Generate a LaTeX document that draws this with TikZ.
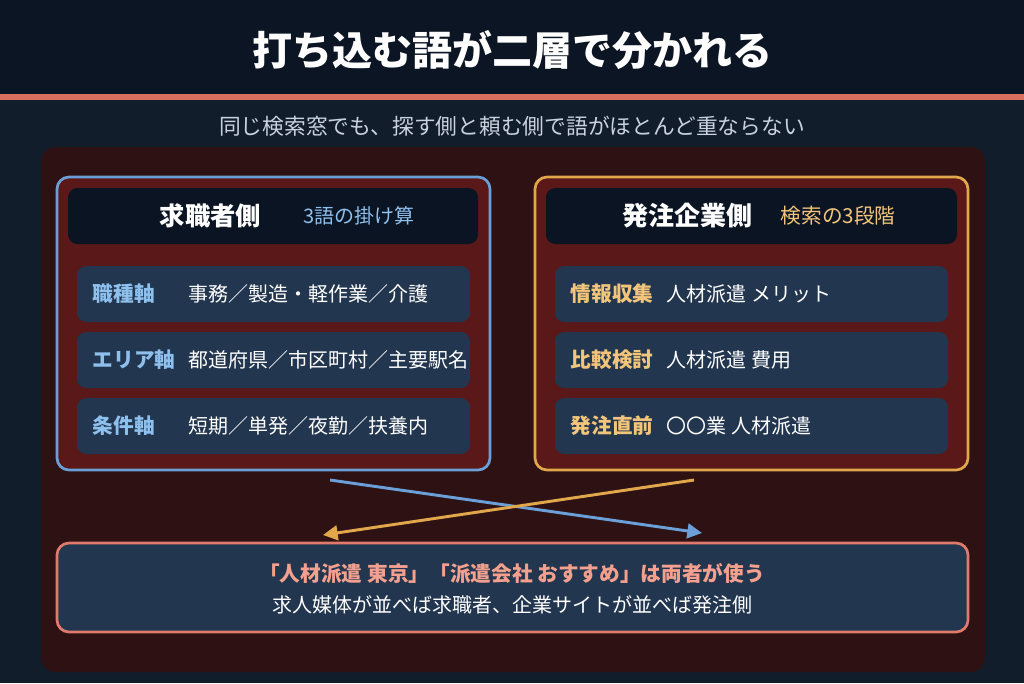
\documentclass[tikz,border=0pt]{standalone}
\usepackage{fontspec}
\setmainfont{Noto Sans CJK JP}
\usetikzlibrary{arrows.meta}

\definecolor{bgtop}{HTML}{0B1523}
\definecolor{bgbot}{HTML}{111D2B}
\definecolor{rule}{HTML}{D9705F}
\definecolor{panel}{HTML}{2E1113}
\definecolor{boxred}{HTML}{5A1818}
\definecolor{rowbg}{HTML}{22364F}
\definecolor{headbg}{HTML}{0A1422}
\definecolor{seekblue}{HTML}{6A9FD8}
\definecolor{seektxt}{HTML}{8EC0EE}
\definecolor{firmgold}{HTML}{E0A84A}
\definecolor{firmtxt}{HTML}{F2C57A}
\definecolor{salmon}{HTML}{E07A6A}
\definecolor{salmontxt}{HTML}{F4A08E}
\definecolor{subgray}{HTML}{C9D2DE}

\tikzset{
  sidebox/.style={draw=#1,line width=2pt,fill=boxred,rounded corners=9pt},
  headbox/.style={fill=headbg,rounded corners=7pt},
  rowbox/.style={fill=rowbg,rounded corners=7pt},
  lbl/.style={anchor=west,font=\bfseries\fontsize{15.5}{18}\selectfont,text=#1},
  val/.style={anchor=west,font=\fontsize{15}{18}\selectfont,text=white},
  cross/.style={draw=#1,line width=2.2pt,-{Triangle[length=11pt,width=11pt]}}
}

\begin{document}
\begin{tikzpicture}[x=0.75pt,y=-0.75pt]
  \useasboundingbox (0,0) rectangle (1024,683);

  % background
  \fill[bgbot] (0,0) rectangle (1024,683);
  \fill[bgtop] (0,0) rectangle (1024,94);
  \fill[rule] (0,94) rectangle (1024,100);
  \node[font=\bfseries\fontsize{30}{34}\selectfont,text=white] (title) at (512,50){打ち込む語が二層で分かれる};
  \node[font=\fontsize{16.3}{20}\selectfont,text=subgray] (sub) at (512,126){同じ検索窓でも、探す側と頼む側で語がほとんど重ならない};

  \fill[panel,rounded corners=11pt] (41,147) rectangle (985,672);

  % seeker side
  \draw[sidebox=seekblue] (57,177) rectangle (490,470);
  \fill[headbox] (68,188) rectangle (478,244);
  \node[anchor=west,font=\bfseries\fontsize{19}{22}\selectfont,text=white] (sh) at (155,216){求職者側};
  \node[anchor=west,font=\fontsize{15}{18}\selectfont,text=seektxt] (shs) at (299,216){3語の掛け算};

  \fill[rowbox] (77,266) rectangle (470,322);
  \fill[rowbox] (77,332) rectangle (470,388);
  \fill[rowbox] (77,398) rectangle (470,454);

  \node[lbl=seektxt] (s1) at (88,294){職種軸};
  \node[lbl=seektxt] (s2) at (88,360){エリア軸};
  \node[lbl=seektxt] (s3) at (88,426){条件軸};
  \node[val] (v1) at (184,294){事務／製造・軽作業／介護};
  \node[val] (v2) at (184,360){都道府県／市区町村／主要駅名};
  \node[val] (v3) at (184,426){短期／単発／夜勤／扶養内};

  % client side
  \draw[sidebox=firmgold] (535,177) rectangle (968,470);
  \fill[headbox] (546,188) rectangle (957,244);
  \node[anchor=west,font=\bfseries\fontsize{19.5}{22}\selectfont,text=white] (fh) at (618,216){発注企業側};
  \node[anchor=west,font=\fontsize{15.5}{18}\selectfont,text=firmtxt] (fhs) at (776,216){検索の3段階};

  \fill[rowbox] (555,266) rectangle (948,322);
  \fill[rowbox] (555,332) rectangle (948,388);
  \fill[rowbox] (555,398) rectangle (948,454);

  \node[lbl=firmtxt] (f1) at (566,294){情報収集};
  \node[lbl=firmtxt] (f2) at (566,360){比較検討};
  \node[lbl=firmtxt] (f3) at (566,426){発注直前};
  \node[val] (w1) at (662,294){人材派遣 メリット};
  \node[val] (w2) at (662,360){人材派遣 費用};
  \node[val] (w3) at (662,426){〇〇業 人材派遣};

  % shared words
  \draw[draw=salmon,line width=2pt,fill=rowbg,rounded corners=9pt] (57,543) rectangle (968,632);
  \node[font=\bfseries\fontsize{15.5}{18}\selectfont,text=salmontxt] (both) at (512,573){「人材派遣 東京」「派遣会社 おすすめ」は両者が使う};
  \node[font=\fontsize{15}{18}\selectfont,text=white] (note) at (512,605){求人媒体が並べば求職者、企業サイトが並べば発注側};

  \coordinate (sa) at (330,480);
  \coordinate (sb) at (702,533);
  \coordinate (fa) at (694,480);
  \coordinate (fb) at (323,535);
  \draw[cross=seekblue] (sa) -- (sb);
  \draw[cross=firmgold] (fa) -- (fb);

\end{tikzpicture}
\end{document}
